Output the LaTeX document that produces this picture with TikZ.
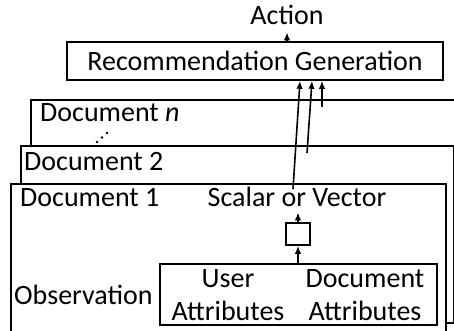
\documentclass[tikz,border=0pt]{standalone}
\usepackage{fontspec}
\setmainfont{Carlito}
\usetikzlibrary{arrows.meta,calc}

\tikzset{
  every node/.style={font=\fontsize{28}{33}\selectfont},
  lbl/.style={inner sep=0pt,anchor=base west},
  box/.style={draw,line width=1.6pt},
  arr/.style={-{Latex[length=8pt,width=6.5pt]},line width=1.6pt},
}

\begin{document}
\begin{tikzpicture}[x=1pt,y=-1pt]
\useasboundingbox (0,0) rectangle (454,331);
\clip (0,0) rectangle (454,331);

\draw[box,fill=white] (31,100) rectangle (480,200);
\draw[box,fill=white] (21,146) rectangle (453.5,323);
\draw[box,fill=white] (11,184) rectangle (446,360);

\node[lbl] (docn) at (40,122) {Document \textit{n}};
\node[lbl] (doc2) at (24,170) {Document 2};
\node[lbl] (doc1) at (20,206) {Document 1};
\fill (97,142) circle (1.3) (102,137.5) circle (1.3) (107,133) circle (1.3);

\node[box,minimum width=376,minimum height=38,inner sep=0pt] (rec) at (255,61) {Recommendation Generation};
\node[inner xsep=0pt,inner ysep=7pt,anchor=base] (act) at (287,25) {Action};
\draw[arr] (rec.north -| act) -- (act.south);

\node[inner xsep=0pt,inner ysep=6pt,anchor=base] (sv) at (297,206) {Scalar or Vector};
\node[box,minimum width=24,minimum height=22,inner sep=0pt] (agg) at (298,234) {};
\draw[arr] (agg.north) -- (agg.north |- sv.south);

\node[box,minimum width=277,minimum height=61,inner sep=0pt] (obs) at (298.5,294.5) {};
\node[align=center,inner sep=0pt,anchor=base] (user) at (228,320) {User\\Attributes};
\node[align=center,inner sep=0pt,anchor=base] (docattr) at (365,320) {Document\\Attributes};
\node[lbl] (obslbl) at (14,304) {Observation};
\draw[arr] (obs.north -| agg) -- (agg.south);

\coordinate (s1) at (293,189);
\coordinate (s2) at (307,153);
\coordinate (s3) at (322,107);
\draw[arr] (s1) -- ($(rec.south)+(45,0)$);
\draw[arr] (s2) -- ($(rec.south)+(57,0)$);
\draw[arr] (s3) -- ($(rec.south)+(67,0)$);
\end{tikzpicture}
\end{document}
